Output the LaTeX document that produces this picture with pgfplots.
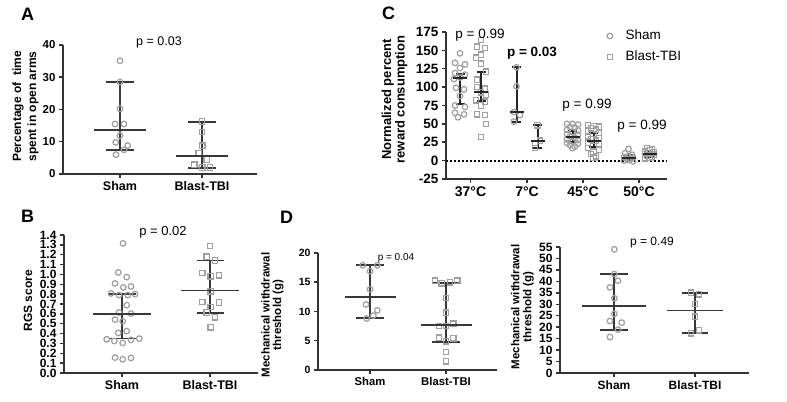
\documentclass[border=0pt]{standalone}
\usepackage{pgfplots}
\pgfplotsset{compat=1.18}
\usepackage{fontspec}
\setmainfont{Liberation Sans}
\definecolor{ptgray}{HTML}{A0A0A0}
\definecolor{lncol}{HTML}{383838}
\definecolor{axcol}{HTML}{333333}
\pgfplotsset{
  gp/.style={
    scale only axis, anchor=south west,
    axis lines=left,
    axis line style={line width=1.8bp, axcol, -},
    every tick/.style={line width=1.5bp, axcol},
    tick align=outside,
    major tick length=4bp,
    xmin=0,
    /pgf/number format/assume math mode=true,
    clip=false,
    ylabel style={anchor=center, align=center},
  },
  sham/.style={only marks, mark=o, mark size=2.8bp, draw=ptgray, line width=1.25bp},
  tbi/.style={only marks, mark=square, mark size=2.7bp, draw=ptgray, line width=1.25bp},
  mw/.style n args={4}{forget plot, #4, line width=#3, only marks, mark=-, mark size=#1,
    mark options={line width=#3, #4},
    error bars/.cd, y dir=both, y explicit, error mark=|,
    error bar style={line width=#3, #4},
    error mark options={line width=#3, mark size=#2, #4}},
}
\begin{document}
\begin{tikzpicture}
\useasboundingbox (0,0) rectangle (787bp,402bp);

% ---------------- Panel A
\begin{axis}[gp, at={(63bp,228bp)}, width=194bp, height=129bp,
  xmax=194, ymin=0, ymax=40, ytick={0,10,20,30,40},
  xtick={57,139}, xticklabels={Sham,Blast-TBI},
  x tick label style={font=\bfseries\fontsize{12.5bp}{13bp}\selectfont},
  y tick label style={font=\bfseries\fontsize{11.5bp}{12bp}\selectfont},
  ylabel={Percentage of\ \ time\\spent in open arms},
  ylabel style={at={(axis description cs:-0.193,0.523)}, font=\bfseries\fontsize{12bp}{15bp}\selectfont}]
\addplot[sham] coordinates {(57,35.1) (57,28.5) (57,20.2) (52,15.5) (61,15.5) (57,11.9) (52.7,9.8) (64.7,8.8) (61,7.5) (53,6.0)};
\addplot[tbi] coordinates {(139,16.3) (139,13) (139.3,8.8) (135.7,6.4) (143.7,4.5) (131.3,2.9) (139.3,2.0) (147,2.0)};
\addplot[mw={26bp}{14bp}{1.6bp}{lncol}] coordinates {(57,13.7) += (0,14.9) -= (0,6.2)};
\addplot[mw={26bp}{14bp}{1.6bp}{lncol}] coordinates {(139,5.5) += (0,10.6) -= (0,3.7)};
\end{axis}

% ---------------- Panel B
\begin{axis}[gp, at={(64bp,29bp)}, width=194bp, height=138bp,
  xmax=194, ymin=0, ymax=1.4, ytick={0,0.1,...,1.41},
  y tick label style={/pgf/number format/fixed, /pgf/number format/fixed zerofill, /pgf/number format/precision=1, font=\bfseries\fontsize{12bp}{12bp}\selectfont},
  xtick={58,146}, xticklabels={Sham,Blast-TBI},
  x tick label style={font=\bfseries\fontsize{12.5bp}{13bp}\selectfont},
  ylabel={RGS score},
  ylabel style={at={(axis description cs:-0.186,0.522)}, font=\bfseries\fontsize{12bp}{15bp}\selectfont}]
\addplot[sham] coordinates {(59,1.315) (54.3,1.02) (62.7,0.973) (51,0.908) (59.3,0.868) (67,0.878) (47,0.807) (55,0.79) (63.7,0.79) (71,0.80) (62.7,0.688) (55,0.614) (67,0.603) (51,0.542) (58.7,0.525) (54.3,0.407) (62.7,0.424) (42.7,0.342) (50.3,0.325) (58.7,0.305) (67,0.336) (75.3,0.349) (51,0.156) (58.7,0.139) (67,0.153)};
\addplot[tbi] coordinates {(146,1.288) (142.7,1.18) (151,1.142) (138.3,1.014) (146.7,0.98) (155,0.99) (146.7,0.83) (138.3,0.719) (155,0.715) (146.7,0.668) (142.7,0.614) (151,0.566) (146.7,0.464)};
\addplot[mw={29bp}{13.5bp}{1.6bp}{lncol}] coordinates {(58,0.6) += (0,0.2) -= (0,0.25)};
\addplot[mw={29bp}{13.5bp}{1.6bp}{lncol}] coordinates {(146,0.835) += (0,0.305) -= (0,0.225)};
\end{axis}

% ---------------- Panel C
\begin{axis}[gp, at={(446bp,223bp)}, width=221bp, height=147bp,
  xmax=221, ymin=-25, ymax=175, ytick={-25,0,...,175},
  xtick={24.5,81,137,193}, xticklabels={37°C,7°C,45°C,50°C},
  x tick label style={font=\bfseries\fontsize{14bp}{14bp}\selectfont},
  y tick label style={font=\bfseries\fontsize{13.5bp}{14bp}\selectfont},
  ylabel={Normalized percent\\reward consumption},
  ylabel style={at={(axis description cs:-0.233,0.541)}, font=\bfseries\fontsize{13bp}{13.5bp}\selectfont},
  legend style={at={(axis description cs:0.728,1.025)}, anchor=north west, draw=none, fill=none,
    font=\fontsize{13.5bp}{14bp}\selectfont, row sep=6bp, inner sep=0pt,
    nodes={inner sep=1bp, text height=10bp, text depth=3bp}},
  legend cell align=left,
  legend image code/.code={\draw[#1] plot coordinates {(0bp,0bp)};},
  /tikz/every odd column/.append style={column sep=12bp}]
\addplot[forget plot, black, line width=1.8bp, dash pattern=on 1.8bp off 2.2bp] coordinates {(0,0) (221,0)};
\addplot[sham] coordinates {
 (14,146) (9,133) (19,131) (14,126) (9,119) (19,117) (14,113) (8,111) (10,99) (18,97) (14,88) (9,75) (19,73) (9,65) (18,63) (12,59)
 (70.5,127) (70.5,101) (68,66) (74,62) (68,53)
 (121,50) (126.5,50) (132,49) (124,46) (129,45) (121,42) (132,41) (126.5,39) (121,36) (132,35) (124,33) (129,31) (121,29) (132,28) (126.5,26) (121,24) (132,23) (124,21) (129,19) (126.5,17)
 (182.5,16) (179,10) (186,8) (182.5,6) (178,5) (187,4) (180,3) (185,2) (182.5,1) (178,0) (187,-1)};
\addlegendentry{Sham}
\addplot[tbi] coordinates {
 (35,164) (31,155) (39,153) (35,144) (30,140) (35,132) (40,121) (31,110) (31,100) (39,98) (35,93) (40,90) (30,82) (39,80) (35,75) (31,63) (39,62) (40,50) (35,32)
 (91.5,48) (94,27) (89,24) (89,17)
 (142,48) (147.5,47) (153,46) (145,44) (150,42) (142,40) (153,38) (147.5,36) (142,33) (153,31) (145,29) (150,27) (142,24) (153,22) (147.5,20) (142,17) (153,15) (147.5,12) (145,9) (150,6) (147.5,4)
 (201,17) (206,16) (203.5,14) (199,12) (208,11) (203.5,10) (199,9) (208,8) (201,7) (206,5) (203.5,4) (199,3)};
\addlegendentry{Blast-TBI}
\addplot[mw={7bp}{4.5bp}{2bp}{black!85}] coordinates {(14,113) += (0,5) -= (0,36.4)};
\addplot[mw={7bp}{4.5bp}{2bp}{black!85}] coordinates {(35,93) += (0,27) -= (0,12)};
\addplot[mw={7bp}{4.5bp}{2bp}{black!85}] coordinates {(70.5,66) += (0,61) -= (0,13)};
\addplot[mw={7bp}{4.5bp}{2bp}{black!85}] coordinates {(91.5,27) += (0,22) -= (0,10)};
\addplot[mw={7bp}{4.5bp}{2bp}{black!85}] coordinates {(126.5,32) += (0,8) -= (0,7)};
\addplot[mw={7bp}{4.5bp}{2bp}{black!85}] coordinates {(147.5,27) += (0,10) -= (0,8)};
\addplot[mw={7bp}{4.5bp}{2bp}{black!85}] coordinates {(182.5,3) += (0,4) -= (0,2)};
\addplot[mw={7bp}{4.5bp}{2bp}{black!85}] coordinates {(203.5,9) += (0,3) -= (0,4)};
\end{axis}

% ---------------- Panel D
\begin{axis}[gp, at={(318bp,32bp)}, width=179bp, height=117bp,
  xmax=179, ymin=0, ymax=20, ytick={0,5,10,15,20},
  xtick={52,128}, xticklabels={Sham,Blast-TBI},
  x tick label style={font=\bfseries\fontsize{11.3bp}{12bp}\selectfont},
  y tick label style={font=\bfseries\fontsize{10.5bp}{11bp}\selectfont},
  ylabel={Mechanical withdrawal\\threshold (g)},
  ylabel style={at={(axis description cs:-0.254,0.47)}, font=\bfseries\fontsize{11.5bp}{11.5bp}\selectfont}]
\addplot[sham] coordinates {(44.7,17.9) (59.3,17.9) (52,16.9) (52,13.8) (48,11.2) (59.3,10.2) (55.3,9.3) (48.7,8.8)};
\addplot[tbi] coordinates {(117,15.25) (123.7,14.8) (132,15.0) (139.3,15.25) (128,12.3) (128,9.8) (121,7.5) (128,7.5) (135.3,7.9) (121,5.5) (135.3,5.4) (128,4.9) (128,3.1) (128,1.5)};
\addplot[mw={25.5bp}{14bp}{1.6bp}{lncol}] coordinates {(52,12.5) += (0,5.4) -= (0,3.6)};
\addplot[mw={25.5bp}{14bp}{1.6bp}{lncol}] coordinates {(128,7.7) += (0,7.2) -= (0,2.9)};
\end{axis}

% ---------------- Panel E
\begin{axis}[gp, at={(560bp,29bp)}, width=189bp, height=126bp,
  xmax=189, ymin=0, ymax=55, ytick={0,5,...,55},
  xtick={54,135}, xticklabels={Sham,Blast-TBI},
  x tick label style={font=\bfseries\fontsize{12bp}{12bp}\selectfont},
  y tick label style={font=\bfseries\fontsize{12bp}{12bp}\selectfont},
  ylabel={Mechanical withdrawal\\threshold (g)},
  ylabel style={at={(axis description cs:-0.199,0.524)}, font=\bfseries\fontsize{11.5bp}{12bp}\selectfont}]
\addplot[sham] coordinates {(54.3,54) (54.3,43.2) (58,40.3) (50,37.4) (54.3,32.6) (54.3,25.8) (50,22.7) (61.7,22) (58,18.9) (50,15.7)};
\addplot[tbi] coordinates {(131,35.1) (139,34.4) (135,30.1) (135,24.6) (139,18.6) (131,17.3)};
\addplot[mw={32bp}{14bp}{1.6bp}{lncol}] coordinates {(54,29.2) += (0,14) -= (0,10.4)};
\addplot[mw={28bp}{13bp}{1.6bp}{lncol}] coordinates {(135,27.3) += (0,7.7) -= (0,9.9)};
\end{axis}

% ---------------- texts
\node[font=\fontsize{12.5bp}{13bp}\selectfont] at (159bp,360bp) {p = 0.03};
\node[font=\fontsize{13bp}{13bp}\selectfont] at (163bp,170bp) {p = 0.02};
\node[font=\fontsize{13.5bp}{14bp}\selectfont] at (480bp,367bp) {p = 0.99};
\node[font=\bfseries\fontsize{13.5bp}{14bp}\selectfont] at (532bp,349bp) {p = 0.03};
\node[font=\fontsize{13.5bp}{14bp}\selectfont] at (587bp,297bp) {p = 0.99};
\node[font=\fontsize{13.5bp}{14bp}\selectfont] at (642bp,276bp) {p = 0.99};
\node[font=\fontsize{10bp}{10bp}\selectfont] at (396bp,144bp) {p = 0.04};
\node[font=\fontsize{12bp}{12bp}\selectfont] at (652bp,159bp) {p = 0.49};
\node[font=\bfseries\fontsize{18bp}{18bp}\selectfont] at (27.5bp,388bp) {A};
\node[font=\bfseries\fontsize{18bp}{18bp}\selectfont] at (27.5bp,185.5bp) {B};
\node[font=\bfseries\fontsize{18bp}{18bp}\selectfont] at (388.5bp,388.5bp) {C};
\node[font=\bfseries\fontsize{18bp}{18bp}\selectfont] at (286.5bp,184.5bp) {D};
\node[font=\bfseries\fontsize{18bp}{18bp}\selectfont] at (521bp,184.5bp) {E};
\end{tikzpicture}
\end{document}
